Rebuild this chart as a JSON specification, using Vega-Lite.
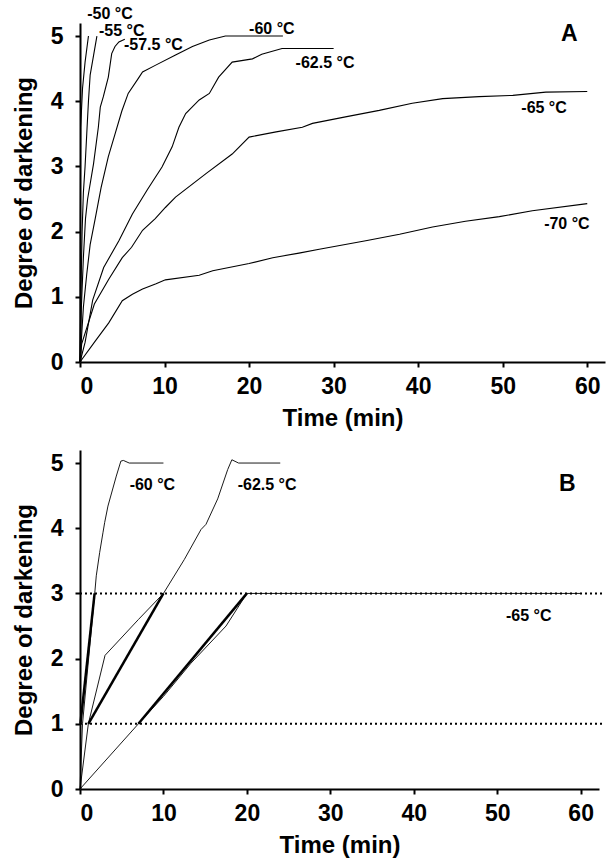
{
  "$schema": "https://vega.github.io/schema/vega-lite/v6.json",
  "background": "white",
  "padding": {"left": 12, "top": 5, "right": 5, "bottom": 5},
  "spacing": 20,
  "config": {
    "view": {"stroke": null},
    "font": "Liberation Sans",
    "axis": {
      "grid": false,
      "domainColor": "black",
      "domainWidth": 2,
      "tickColor": "black",
      "tickWidth": 2,
      "tickSize": 5,
      "labelFont": "Liberation Sans",
      "labelFontSize": 23,
      "labelFontWeight": "bold",
      "labelColor": "black",
      "titleFont": "Liberation Sans",
      "titleFontSize": 24,
      "titleFontWeight": "bold",
      "titleColor": "black"
    },
    "axisX": {"labelPadding": 8, "titlePadding": 8},
    "axisY": {"labelPadding": 12, "titlePadding": 14}
  },
  "datasets": {
    "curvesA": [
      {"s": "-50", "t": 0, "d": 0}, {"s": "-50", "t": 0.03, "d": 2}, {"s": "-50", "t": 0.08, "d": 3.6}, {"s": "-50", "t": 0.3, "d": 4.2}, {"s": "-50", "t": 0.6, "d": 4.6}, {"s": "-50", "t": 1.0, "d": 5.0},
      {"s": "-55", "t": 0, "d": 0}, {"s": "-55", "t": 0.1, "d": 1.0}, {"s": "-55", "t": 0.25, "d": 2.0}, {"s": "-55", "t": 0.4, "d": 2.6}, {"s": "-55", "t": 0.6, "d": 3.0}, {"s": "-55", "t": 0.8, "d": 3.5}, {"s": "-55", "t": 1.0, "d": 4.0}, {"s": "-55", "t": 1.2, "d": 4.4}, {"s": "-55", "t": 1.6, "d": 4.7}, {"s": "-55", "t": 2.0, "d": 5.0},
      {"s": "-57.5", "t": 0, "d": 0}, {"s": "-57.5", "t": 0.15, "d": 0.8}, {"s": "-57.5", "t": 0.4, "d": 1.6}, {"s": "-57.5", "t": 0.65, "d": 2.2}, {"s": "-57.5", "t": 0.9, "d": 2.5}, {"s": "-57.5", "t": 1.6, "d": 3.04}, {"s": "-57.5", "t": 2.17, "d": 3.6}, {"s": "-57.5", "t": 2.4, "d": 3.91}, {"s": "-57.5", "t": 2.76, "d": 4.07}, {"s": "-57.5", "t": 3.35, "d": 4.37}, {"s": "-57.5", "t": 3.75, "d": 4.73}, {"s": "-57.5", "t": 4.14, "d": 4.84}, {"s": "-57.5", "t": 4.6, "d": 4.91}, {"s": "-57.5", "t": 5.3, "d": 4.95},
      {"s": "-60", "t": 0, "d": 0}, {"s": "-60", "t": 0.4, "d": 0.84}, {"s": "-60", "t": 0.8, "d": 1.35}, {"s": "-60", "t": 1.2, "d": 1.8}, {"s": "-60", "t": 1.8, "d": 2.2}, {"s": "-60", "t": 2.5, "d": 2.68}, {"s": "-60", "t": 3.35, "d": 3.15}, {"s": "-60", "t": 4.15, "d": 3.5}, {"s": "-60", "t": 4.95, "d": 3.85}, {"s": "-60", "t": 5.7, "d": 4.12}, {"s": "-60", "t": 6.9, "d": 4.35}, {"s": "-60", "t": 7.4, "d": 4.45}, {"s": "-60", "t": 8.9, "d": 4.55}, {"s": "-60", "t": 11.3, "d": 4.71}, {"s": "-60", "t": 13.3, "d": 4.84}, {"s": "-60", "t": 15.3, "d": 4.94}, {"s": "-60", "t": 17.2, "d": 5.0}, {"s": "-60", "t": 24, "d": 5.0},
      {"s": "-62.5", "t": 0, "d": 0}, {"s": "-62.5", "t": 0.6, "d": 0.3}, {"s": "-62.5", "t": 1.5, "d": 0.95}, {"s": "-62.5", "t": 2.8, "d": 1.45}, {"s": "-62.5", "t": 4.6, "d": 1.86}, {"s": "-62.5", "t": 6.2, "d": 2.27}, {"s": "-62.5", "t": 8.0, "d": 2.65}, {"s": "-62.5", "t": 9.7, "d": 2.99}, {"s": "-62.5", "t": 10.9, "d": 3.3}, {"s": "-62.5", "t": 11.7, "d": 3.6}, {"s": "-62.5", "t": 12.5, "d": 3.81}, {"s": "-62.5", "t": 14.1, "d": 4.02}, {"s": "-62.5", "t": 15.3, "d": 4.12}, {"s": "-62.5", "t": 16.4, "d": 4.37}, {"s": "-62.5", "t": 18.0, "d": 4.6}, {"s": "-62.5", "t": 20.4, "d": 4.65}, {"s": "-62.5", "t": 21.5, "d": 4.72}, {"s": "-62.5", "t": 23.9, "d": 4.81}, {"s": "-62.5", "t": 30, "d": 4.81},
      {"s": "-65", "t": 0, "d": 0}, {"s": "-65", "t": 0.2, "d": 0.28}, {"s": "-65", "t": 1.7, "d": 0.89}, {"s": "-65", "t": 3.4, "d": 1.27}, {"s": "-65", "t": 5.0, "d": 1.6}, {"s": "-65", "t": 6.1, "d": 1.76}, {"s": "-65", "t": 7.4, "d": 2.02}, {"s": "-65", "t": 8.9, "d": 2.2}, {"s": "-65", "t": 10.1, "d": 2.37}, {"s": "-65", "t": 11.3, "d": 2.53}, {"s": "-65", "t": 14.9, "d": 2.89}, {"s": "-65", "t": 18.0, "d": 3.19}, {"s": "-65", "t": 20, "d": 3.45}, {"s": "-65", "t": 23.2, "d": 3.53}, {"s": "-65", "t": 26.3, "d": 3.6}, {"s": "-65", "t": 27.5, "d": 3.66}, {"s": "-65", "t": 31.4, "d": 3.76}, {"s": "-65", "t": 35.4, "d": 3.86}, {"s": "-65", "t": 39.3, "d": 3.97}, {"s": "-65", "t": 42.9, "d": 4.04}, {"s": "-65", "t": 47.2, "d": 4.07}, {"s": "-65", "t": 51.2, "d": 4.09}, {"s": "-65", "t": 55.1, "d": 4.14}, {"s": "-65", "t": 60, "d": 4.15},
      {"s": "-70", "t": 0, "d": 0}, {"s": "-70", "t": 1.8, "d": 0.32}, {"s": "-70", "t": 3.4, "d": 0.6}, {"s": "-70", "t": 5.0, "d": 0.94}, {"s": "-70", "t": 6.2, "d": 1.04}, {"s": "-70", "t": 7.4, "d": 1.12}, {"s": "-70", "t": 9.0, "d": 1.2}, {"s": "-70", "t": 10.1, "d": 1.26}, {"s": "-70", "t": 14.1, "d": 1.33}, {"s": "-70", "t": 15.7, "d": 1.4}, {"s": "-70", "t": 20, "d": 1.51}, {"s": "-70", "t": 22.8, "d": 1.6}, {"s": "-70", "t": 25.9, "d": 1.67}, {"s": "-70", "t": 28.3, "d": 1.73}, {"s": "-70", "t": 33.8, "d": 1.86}, {"s": "-70", "t": 37.8, "d": 1.96}, {"s": "-70", "t": 41.7, "d": 2.07}, {"s": "-70", "t": 45.6, "d": 2.16}, {"s": "-70", "t": 49.6, "d": 2.23}, {"s": "-70", "t": 53.5, "d": 2.32}, {"s": "-70", "t": 60, "d": 2.43}
    ],
    "labelsA": [
      {"kind": "curve", "t": 0.86, "d": 5.34, "label": "-50 °C"},
      {"kind": "curve", "t": 2.25, "d": 5.08, "label": "-55 °C"},
      {"kind": "curve", "t": 5.2, "d": 4.86, "label": "-57.5 °C"},
      {"kind": "curve", "t": 20.0, "d": 5.11, "label": "-60 °C"},
      {"kind": "curve", "t": 25.5, "d": 4.59, "label": "-62.5 °C"},
      {"kind": "curve", "t": 52.2, "d": 3.9, "label": "-65 °C"},
      {"kind": "curve", "t": 54.9, "d": 2.12, "label": "-70 °C"},
      {"kind": "panel", "t": 56.9, "d": 5.03, "label": "A"}
    ],
    "curvesB": [
      {"kind": "data", "s": "-60", "t": 0, "d": 0}, {"kind": "data", "s": "-60", "t": 0.3, "d": 1}, {"kind": "data", "s": "-60", "t": 1.8, "d": 3.05}, {"kind": "data", "s": "-60", "t": 1.95, "d": 3.27}, {"kind": "data", "s": "-60", "t": 2.36, "d": 3.63}, {"kind": "data", "s": "-60", "t": 2.75, "d": 3.93}, {"kind": "data", "s": "-60", "t": 2.96, "d": 4.09}, {"kind": "data", "s": "-60", "t": 3.35, "d": 4.34}, {"kind": "data", "s": "-60", "t": 4.35, "d": 4.8}, {"kind": "data", "s": "-60", "t": 4.9, "d": 5.03}, {"kind": "data", "s": "-60", "t": 5.2, "d": 5.04}, {"kind": "data", "s": "-60", "t": 5.9, "d": 5.0}, {"kind": "data", "s": "-60", "t": 10, "d": 5.0},
      {"kind": "data", "s": "-62.5", "t": 0, "d": 0}, {"kind": "data", "s": "-62.5", "t": 1, "d": 1}, {"kind": "data", "s": "-62.5", "t": 3, "d": 2.05}, {"kind": "data", "s": "-62.5", "t": 7, "d": 2.6}, {"kind": "data", "s": "-62.5", "t": 10, "d": 3.0}, {"kind": "data", "s": "-62.5", "t": 12.5, "d": 3.52}, {"kind": "data", "s": "-62.5", "t": 14.5, "d": 3.98}, {"kind": "data", "s": "-62.5", "t": 15.1, "d": 4.06}, {"kind": "data", "s": "-62.5", "t": 16.5, "d": 4.45}, {"kind": "data", "s": "-62.5", "t": 17.7, "d": 4.9}, {"kind": "data", "s": "-62.5", "t": 18.2, "d": 5.05}, {"kind": "data", "s": "-62.5", "t": 19, "d": 5.0}, {"kind": "data", "s": "-62.5", "t": 24, "d": 5.0},
      {"kind": "data", "s": "-65", "t": 0, "d": 0}, {"kind": "data", "s": "-65", "t": 7, "d": 1}, {"kind": "data", "s": "-65", "t": 10, "d": 1.42}, {"kind": "data", "s": "-65", "t": 13.3, "d": 1.93}, {"kind": "data", "s": "-65", "t": 17.5, "d": 2.5}, {"kind": "data", "s": "-65", "t": 20, "d": 3.0}, {"kind": "data", "s": "-65", "t": 60, "d": 3.0},
      {"kind": "fit", "s": "-60", "t": 0.05, "d": 1}, {"kind": "fit", "s": "-60", "t": 1.75, "d": 3},
      {"kind": "fit", "s": "-62.5", "t": 1, "d": 1}, {"kind": "fit", "s": "-62.5", "t": 10, "d": 3},
      {"kind": "fit", "s": "-65", "t": 7, "d": 1}, {"kind": "fit", "s": "-65", "t": 20, "d": 3}
    ],
    "refsB": [
      {"d": 1, "t": 0, "t2": 62.8},
      {"d": 3, "t": 0, "t2": 62.8}
    ],
    "labelsB": [
      {"kind": "curve", "t": 5.95, "d": 4.66, "label": "-60 °C"},
      {"kind": "curve", "t": 18.9, "d": 4.66, "label": "-62.5 °C"},
      {"kind": "curve", "t": 51.05, "d": 2.66, "label": "-65 °C"},
      {"kind": "panel", "t": 57.4, "d": 4.68, "label": "B"}
    ]
  },
  "vconcat": [
    {
      "width": 525,
      "height": 339,
      "layer": [
        {
          "data": {"name": "curvesA"},
          "mark": {"type": "line", "color": "black", "strokeWidth": 1.1},
          "encoding": {
            "x": {"field": "t", "type": "quantitative", "scale": {"domain": [0, 62.1], "nice": false, "zero": false},
                  "axis": {"title": "Time (min)", "values": [0, 10, 20, 30, 40, 50, 60], "format": "d"}},
            "y": {"field": "d", "type": "quantitative", "scale": {"domain": [0, 5.2], "nice": false},
                  "axis": {"title": "Degree of darkening", "values": [0, 1, 2, 3, 4, 5], "format": "d"}},
            "detail": {"field": "s"}
          }
        },
        {
          "data": {"name": "labelsA"},
          "transform": [{"filter": "datum.kind == 'curve'"}],
          "mark": {"type": "text", "align": "left", "baseline": "middle", "fontSize": 16, "fontWeight": "bold", "font": "Liberation Sans", "color": "black"},
          "encoding": {
            "x": {"field": "t", "type": "quantitative"},
            "y": {"field": "d", "type": "quantitative"},
            "text": {"field": "label"}
          }
        },
        {
          "data": {"name": "labelsA"},
          "transform": [{"filter": "datum.kind == 'panel'"}],
          "mark": {"type": "text", "align": "left", "baseline": "middle", "fontSize": 23, "fontWeight": "bold", "font": "Liberation Sans", "color": "black"},
          "encoding": {
            "x": {"field": "t", "type": "quantitative"},
            "y": {"field": "d", "type": "quantitative"},
            "text": {"field": "label"}
          }
        }
      ]
    },
    {
      "width": 519,
      "height": 339,
      "layer": [
        {
          "data": {"name": "refsB"},
          "mark": {"type": "rule", "color": "black", "strokeWidth": 2, "strokeDash": [2, 3]},
          "encoding": {
            "x": {"field": "t", "type": "quantitative", "scale": {"domain": [0, 62.2], "nice": false, "zero": false},
                  "axis": {"title": "Time (min)", "values": [0, 10, 20, 30, 40, 50, 60], "format": "d"}},
            "x2": {"field": "t2"},
            "y": {"field": "d", "type": "quantitative", "scale": {"domain": [0, 5.2], "nice": false},
                  "axis": {"title": "Degree of darkening", "values": [0, 1, 2, 3, 4, 5], "format": "d"}}
          }
        },
        {
          "data": {"name": "curvesB"},
          "transform": [{"filter": "datum.kind == 'data'"}],
          "mark": {"type": "line", "color": "black", "strokeWidth": 0.9},
          "encoding": {
            "x": {"field": "t", "type": "quantitative"},
            "y": {"field": "d", "type": "quantitative"},
            "detail": {"field": "s"}
          }
        },
        {
          "data": {"name": "curvesB"},
          "transform": [{"filter": "datum.kind == 'fit'"}],
          "mark": {"type": "line", "color": "black", "strokeWidth": 2.5},
          "encoding": {
            "x": {"field": "t", "type": "quantitative"},
            "y": {"field": "d", "type": "quantitative"},
            "detail": {"field": "s"}
          }
        },
        {
          "data": {"name": "labelsB"},
          "transform": [{"filter": "datum.kind == 'curve'"}],
          "mark": {"type": "text", "align": "left", "baseline": "middle", "fontSize": 16, "fontWeight": "bold", "font": "Liberation Sans", "color": "black"},
          "encoding": {
            "x": {"field": "t", "type": "quantitative"},
            "y": {"field": "d", "type": "quantitative"},
            "text": {"field": "label"}
          }
        },
        {
          "data": {"name": "labelsB"},
          "transform": [{"filter": "datum.kind == 'panel'"}],
          "mark": {"type": "text", "align": "left", "baseline": "middle", "fontSize": 23, "fontWeight": "bold", "font": "Liberation Sans", "color": "black"},
          "encoding": {
            "x": {"field": "t", "type": "quantitative"},
            "y": {"field": "d", "type": "quantitative"},
            "text": {"field": "label"}
          }
        }
      ]
    }
  ]
}
